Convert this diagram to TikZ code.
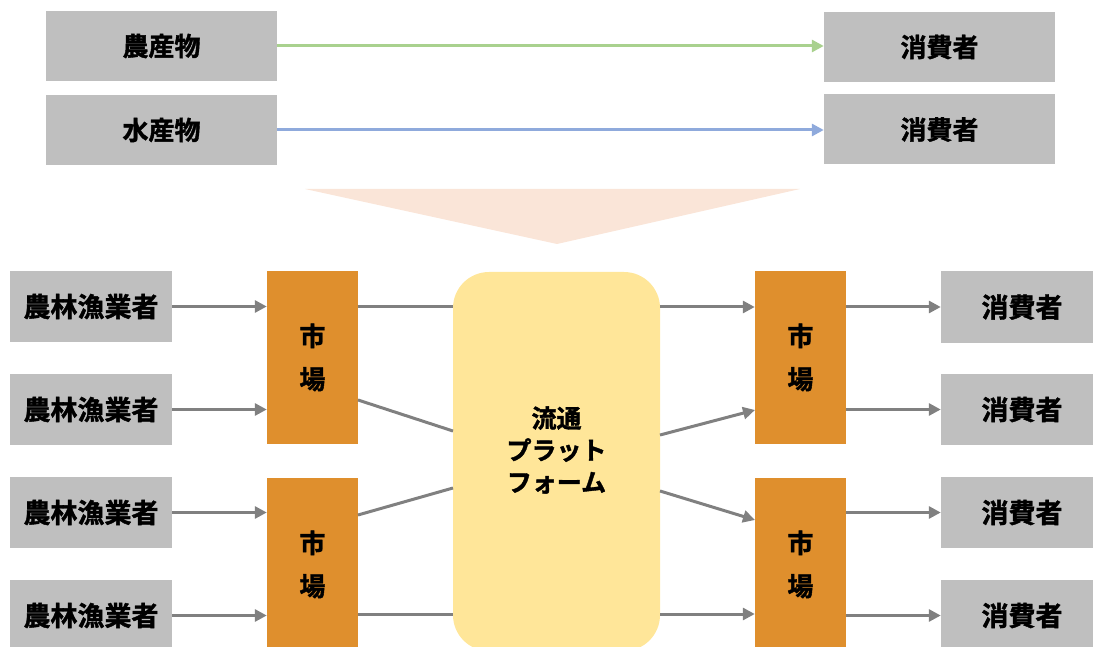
\documentclass[tikz,border=0pt]{standalone}
\usepackage{fontspec}
\setmainfont{Noto Sans CJK JP}[BoldFont={Noto Sans CJK JP Bold},BoldFeatures={FakeBold=1.5}]
\usetikzlibrary{arrows.meta}
\definecolor{boxgrey}{HTML}{BFBFBF}
\definecolor{mkt}{HTML}{DF8F2D}
\definecolor{plat}{HTML}{FFE699}
\definecolor{arrgrey}{HTML}{808080}
\definecolor{agreen}{HTML}{A9D18E}
\definecolor{ablue}{HTML}{8FAADC}
\definecolor{peach}{HTML}{FAE5D8}
\tikzset{
  greybox/.style={rectangle, fill=boxgrey, inner sep=0pt, font=\fontsize{26}{30}\selectfont\bfseries},
  topbox/.style={greybox, minimum width=231pt, minimum height=70pt},
  sidebox/.style={greybox, minimum width=162pt, minimum height=71pt, font=\fontsize{27}{30}\selectfont\bfseries},
  mktbox/.style={rectangle, fill=mkt, inner sep=0pt, minimum width=91pt, minimum height=173pt, align=center, font=\fontsize{26}{43}\selectfont\bfseries},
  flow/.style={draw=arrgrey, line width=3pt, -{Triangle[length=12pt,width=12pt]}},
  link/.style={draw=arrgrey, line width=3pt},
}
\begin{document}
\begin{tikzpicture}[x=1pt,y=-1pt]
\useasboundingbox (0,0) rectangle (1093,647);
\clip (0,0) rectangle (1093,647);
% top section
\node[topbox] (agri) at (161.5,46) {農産物};
\node[topbox] (aqua) at (161.5,130) {水産物};
\node[topbox] (cons1) at (939.5,47) {消費者};
\node[topbox] (cons2) at (939.5,129.5) {消費者};
\draw[draw=agreen, line width=3pt, -{Triangle[length=12pt,width=12pt]}] (agri.east) -- (agri.east -| cons1.west);
\draw[draw=ablue, line width=3pt, -{Triangle[length=12pt,width=12pt]}] (aqua.east) -- (aqua.east -| cons2.west);
% big down triangle
\coordinate (tl) at (305,189);
\coordinate (tr) at (800,189);
\coordinate (tb) at (557,244);
\fill[peach] (tl) -- (tr) -- (tb) -- cycle;
% bottom section
\node[sidebox] (f1) at (91,306.5) {農林漁業者};
\node[sidebox] (f2) at (91,409.5) {農林漁業者};
\node[sidebox] (f3) at (91,512.5) {農林漁業者};
\node[sidebox] (f4) at (91,615.5) {農林漁業者};
\node[mktbox] (mL1) at (312.5,357.5) {市\\場};
\node[mktbox] (mL2) at (312.5,564.5) {市\\場};
\node[rectangle, rounded corners=36pt, fill=plat, minimum width=207pt, minimum height=379pt, inner sep=0pt] (pf) at (556.5,461.5) {};
\node[align=center, font=\fontsize{25}{32}\selectfont\bfseries] (pftext) at (556.5,450) {流通\\プラット\\フォーム};
\node[mktbox] (mR1) at (800.5,357.5) {市\\場};
\node[mktbox] (mR2) at (800.5,564.5) {市\\場};
\node[sidebox] (c1) at (1022,307) {消費者};
\node[sidebox] (c2) at (1022,409.5) {消費者};
\node[sidebox] (c3) at (1022,512.5) {消費者};
\node[sidebox] (c4) at (1022,615.5) {消費者};
% farmers to markets
\draw[flow] (f1.east) -- (f1.east -| mL1.west);
\draw[flow] (f2.east) -- (f2.east -| mL1.west);
\draw[flow] (f3.east) -- (f3.east -| mL2.west);
\draw[flow] (f4.east) -- (f4.east -| mL2.west);
% markets to platform
\coordinate (l1a) at (358,307);
\coordinate (l2a) at (358,400);
\coordinate (l2b) at (453,431);
\coordinate (l3a) at (358,515);
\coordinate (l3b) at (453,488);
\coordinate (l4a) at (358,614);
\draw[link] (l1a) -- (l1a -| pf.west);
\draw[link] (l2a) -- (l2b);
\draw[link] (l3a) -- (l3b);
\draw[link] (l4a) -- (l4a -| pf.west);
% platform to right markets
\coordinate (r1a) at (660,307);
\coordinate (r2a) at (660,435);
\coordinate (r2b) at (755,410);
\coordinate (r3a) at (660,491);
\coordinate (r3b) at (755,520);
\coordinate (r4a) at (660,614);
\draw[flow] (r1a) -- (r1a -| mR1.west);
\draw[flow] (r2a) -- (r2b);
\draw[flow] (r3a) -- (r3b);
\draw[flow] (r4a) -- (r4a -| mR2.west);
% right markets to consumers
\draw[flow] (c1.west -| mR1.east) -- (c1.west);
\draw[flow] (c2.west -| mR1.east) -- (c2.west);
\draw[flow] (c3.west -| mR2.east) -- (c3.west);
\draw[flow] (c4.west -| mR2.east) -- (c4.west);
\end{tikzpicture}
\end{document}
